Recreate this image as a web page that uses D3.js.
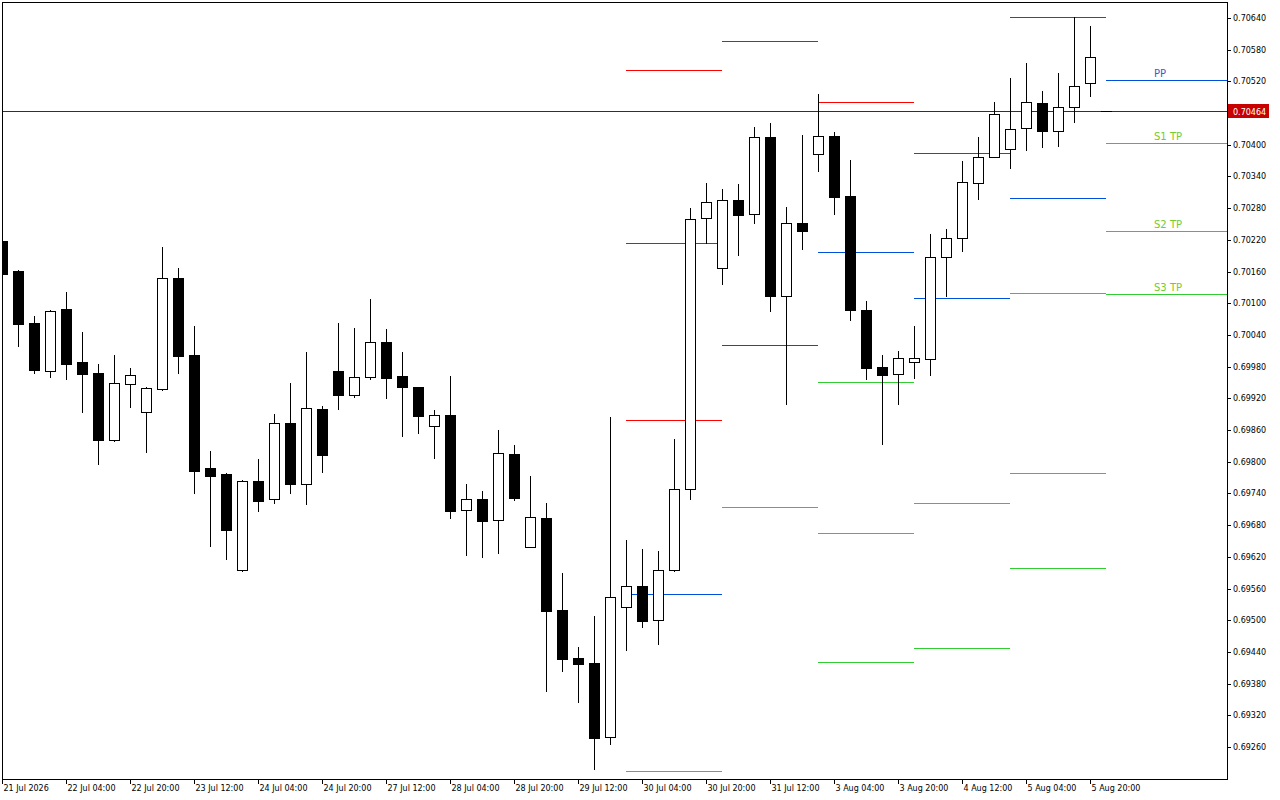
<!DOCTYPE html>
<html><head><meta charset="utf-8">
<script src="https://cdn.jsdelivr.net/npm/d3@7"></script>
<style>html,body{margin:0;padding:0;background:#fff;} svg{display:block;}</style>
</head><body>
<svg id="chart" width="1280" height="800"></svg>
<script>
// ---- data ----
const timeLabels = ["21 Jul 2026","22 Jul 04:00","22 Jul 20:00","23 Jul 12:00","24 Jul 04:00","24 Jul 20:00",
  "27 Jul 12:00","28 Jul 04:00","28 Jul 20:00","29 Jul 12:00","30 Jul 04:00","30 Jul 20:00",
  "31 Jul 12:00","3 Aug 04:00","3 Aug 20:00","4 Aug 12:00","5 Aug 04:00","5 Aug 20:00"];

const open = [0.70218,0.70161,0.70063,0.69972,0.70089,0.69989,0.69968,0.69841,0.69947,0.69894,
  0.69938,0.70148,0.70002,0.69788,0.69777,0.69595,0.69764,0.69730,0.69873,0.69758,
  0.69900,0.69972,0.69926,0.69960,0.70027,0.69962,0.69941,0.69868,0.69889,0.69709,
  0.69730,0.69690,0.69815,0.69639,0.69694,0.69519,0.69428,0.69419,0.69279,0.69525,
  0.69565,0.69500,0.69595,0.69748,0.70261,0.70167,0.70295,0.70269,0.70415,0.70114,
  0.70252,0.70383,0.70417,0.70303,0.70087,0.69979,0.69966,0.69989,0.69995,0.70188,
  0.70224,0.70328,0.70377,0.70392,0.70432,0.70479,0.70426,0.70472,0.70517,0.70464];
const high = [0.70220,0.70163,0.70076,0.70087,0.70121,0.70046,0.69985,0.70002,0.69977,0.69941,
  0.70207,0.70167,0.70057,0.69820,0.69778,0.69765,0.69805,0.69890,0.69949,0.70008,
  0.69906,0.70063,0.70053,0.70108,0.70051,0.70008,0.69942,0.69898,0.69962,0.69758,
  0.69745,0.69860,0.69832,0.69773,0.69722,0.69589,0.69449,0.69508,0.69885,0.69652,
  0.69635,0.69631,0.69843,0.70280,0.70328,0.70316,0.70326,0.70434,0.70441,0.70282,
  0.70419,0.70496,0.70424,0.70371,0.70104,0.70002,0.70010,0.70057,0.70231,0.70241,
  0.70369,0.70415,0.70481,0.70526,0.70555,0.70502,0.70536,0.70642,0.70625,0.70464];
const low = [0.70155,0.70019,0.69968,0.69960,0.69957,0.69894,0.69796,0.69839,0.69904,0.69818,
  0.69936,0.69968,0.69741,0.69640,0.69616,0.69594,0.69707,0.69722,0.69741,0.69720,
  0.69781,0.69900,0.69923,0.69957,0.69921,0.69849,0.69854,0.69807,0.69694,0.69623,
  0.69620,0.69627,0.69728,0.69638,0.69366,0.69404,0.69345,0.69218,0.69266,0.69444,
  0.69487,0.69455,0.69593,0.69730,0.70214,0.70136,0.70191,0.70252,0.70085,0.69909,
  0.70203,0.70350,0.70269,0.70068,0.69957,0.69834,0.69909,0.69959,0.69964,0.70114,
  0.70199,0.70297,0.70376,0.70356,0.70390,0.70396,0.70398,0.70443,0.70492,0.70464];
const close = [0.70155,0.70061,0.69974,0.70085,0.69985,0.69966,0.69841,0.69949,0.69964,0.69940,
  0.70148,0.70000,0.69782,0.69773,0.69671,0.69764,0.69726,0.69873,0.69758,0.69902,
  0.69813,0.69926,0.69960,0.70027,0.69959,0.69941,0.69887,0.69889,0.69707,0.69730,
  0.69688,0.69817,0.69731,0.69695,0.69517,0.69427,0.69417,0.69277,0.69544,0.69565,
  0.69499,0.69595,0.69748,0.70260,0.70292,0.70295,0.70267,0.70415,0.70114,0.70252,
  0.70237,0.70417,0.70301,0.70087,0.69977,0.69964,0.69996,0.69996,0.70188,0.70224,
  0.70330,0.70377,0.70458,0.70430,0.70481,0.70426,0.70472,0.70512,0.70566,0.70464];

const priceTicks = [0.70640,0.70580,0.70520,0.70400,0.70340,0.70280,0.70220,0.70160,0.70100,0.70040,
  0.69980,0.69920,0.69860,0.69800,0.69740,0.69680,0.69620,0.69560,0.69500,0.69440,0.69380,0.69320,0.69260];
const lastPrice = 0.70464;

// pivot / target levels per day (start candle index of the day)
const levelStart = [39,39,39,39,39, 45,45,45, 51,51,51,51,51, 57,57,57,57, 63,63,63,63,63, 69,69,69,69];
const levelPrice = [0.70542,0.70214,0.69879,0.69550,0.69215, 0.70596,0.70021,0.69714,
  0.70481,0.70197,0.69951,0.69665,0.69421, 0.70384,0.70110,0.69721,0.69447,
  0.70641,0.70299,0.70119,0.69778,0.69598, 0.70522,0.70403,0.70236,0.70117];
const levelType = ["R","R","R","P","S", "R","P","S", "R","P","S","S","S", "R","P","S","S",
  "R","P","S","S","S", "P","S","S","S"];
const levelText = ["","","","","", "","","", "","","","","", "","","","", "","","","","", "PP","S1 TP","S2 TP","S3 TP"];

// ---- layout ----
const L = 2, T = 2, R = 1227, B = 779;
const svg = d3.select("#chart");
const x = d3.scaleLinear().domain([0, 68]).range([2, 1090]);
const y = d3.scaleLinear().domain([0.69260, 0.70640]).range([747, 18]).interpolate(d3.interpolateRound);
const FONT = "'DejaVu Sans', sans-serif";

svg.append("rect").attr("width",1280).attr("height",800).attr("fill","#fff");
svg.append("defs").append("clipPath").attr("id","plot")
  .append("rect").attr("x",L).attr("y",T).attr("width",R-L).attr("height",B-T);

const g = svg.append("g").attr("clip-path","url(#plot)").attr("shape-rendering","crispEdges");

// current price line
g.append("line").attr("x1",L).attr("x2",R).attr("y1",y(lastPrice)+0.5).attr("y2",y(lastPrice)+0.5)
  .attr("stroke","#a00000").attr("stroke-width",1);

// levels
const levelColor = {R:"#ff0000", P:"#0050dc", S:"#32cd32"};
const lastStart = d3.max(levelStart);
g.selectAll(".lvl").data(d3.range(levelPrice.length)).join("line").attr("class","lvl")
  .attr("x1", i => x(levelStart[i]))
  .attr("x2", i => levelStart[i] === lastStart ? R : x(levelStart[i] + 6))
  .attr("y1", i => y(levelPrice[i]) + 0.5).attr("y2", i => y(levelPrice[i]) + 0.5)
  .attr("stroke", i => levelColor[levelType[i]]).attr("stroke-width",1);

// candles
const idx = d3.range(open.length);
const cg = g.selectAll(".c").data(idx).join("g").attr("class","c");
cg.append("line")
  .attr("x1", i => x(i)+0.5).attr("x2", i => x(i)+0.5)
  .attr("y1", i => y(high[i])).attr("y2", i => y(low[i])+1)
  .attr("stroke","#000").attr("stroke-width",1);
cg.each(function(i){
  const s = d3.select(this), cx = x(i);
  const yo = y(open[i]), yc = y(close[i]);
  if (yo === yc) {
    s.append("line").attr("x1",cx-5).attr("x2",cx+6).attr("y1",yo+0.5).attr("y2",yo+0.5)
      .attr("stroke","#000").attr("stroke-width",1);
  } else if (close[i] > open[i]) {
    s.append("rect").attr("x",cx-4.5).attr("y",yc+0.5).attr("width",10).attr("height",yo-yc)
      .attr("fill","#fff").attr("stroke","#000").attr("stroke-width",1);
  } else {
    s.append("rect").attr("x",cx-5).attr("y",yo).attr("width",11).attr("height",yc-yo+1)
      .attr("fill","#000");
  }
});

// level labels (last day)
svg.selectAll(".lt").data(d3.range(levelPrice.length).filter(i => levelText[i])).join("text").attr("class","lt")
  .attr("x", i => x(levelStart[i]) + 48).attr("y", i => y(levelPrice[i]) - 3)
  .attr("font-family", FONT).attr("font-size", 10)
  .attr("fill", i => levelType[i] === "P" ? "#3b5bd0" : "#74cc2c")
  .text(i => levelText[i]);

// frame
svg.append("rect").attr("x",L+0.5).attr("y",T+0.5).attr("width",R-L).attr("height",B-T)
  .attr("fill","none").attr("stroke","#000").attr("stroke-width",1).attr("shape-rendering","crispEdges");

// right axis
const ay = svg.append("g").attr("transform",`translate(${R},0)`)
  .call(d3.axisRight(y).tickValues(priceTicks).tickSize(4).tickPadding(2).tickFormat(d3.format(".5f")));
ay.select(".domain").remove();
ay.selectAll("line").attr("stroke","#000").attr("shape-rendering","crispEdges");
ay.selectAll("text").attr("font-family",FONT).attr("font-size",8).attr("fill","#000");

// bottom axis
const ax = svg.append("g").attr("transform",`translate(0,${B})`)
  .call(d3.axisBottom(x).tickValues(d3.range(0, 69, 4)).tickSize(5).tickFormat((d,i) => timeLabels[i]));
ax.select(".domain").remove();
ax.selectAll("line").attr("stroke","#000").attr("shape-rendering","crispEdges");
ax.selectAll("text").attr("font-family",FONT).attr("font-size",8).attr("fill","#000")
  .attr("text-anchor","start").attr("x",1).attr("y",6);

// current price tag
const py = y(lastPrice);
svg.append("rect").attr("x",R+1).attr("y",py-7).attr("width",41).attr("height",14).attr("fill","#c80000");
svg.append("text").attr("x",R+6).attr("y",py+3.5).attr("font-family",FONT).attr("font-size",8)
  .attr("fill","#fff").text(d3.format(".5f")(lastPrice));
</script>
</body></html>
